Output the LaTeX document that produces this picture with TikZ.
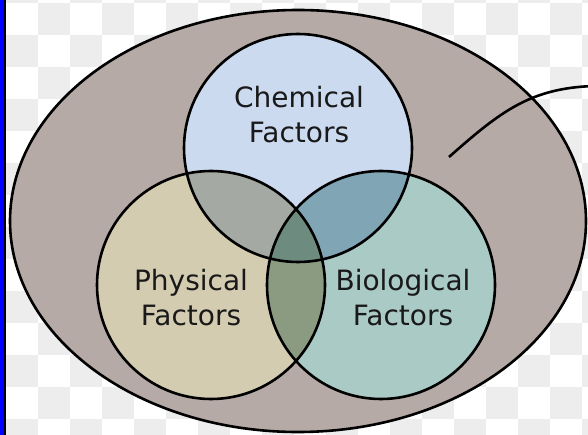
\documentclass[tikz,border=0pt]{standalone}
\usepackage{fontspec}
\setmainfont{DejaVu Sans}

\definecolor{tilegray}{HTML}{EDEDED}
\definecolor{envcol}{HTML}{B5AAA6}
\definecolor{chemcol}{HTML}{CCDAF0}
\definecolor{physcol}{HTML}{D4CCB1}
\definecolor{biocol}{HTML}{AACAC6}
\definecolor{chemphys}{HTML}{A4AAA3}
\definecolor{chembio}{HTML}{80A5B5}
\definecolor{physbio}{HTML}{8B9B81}
\definecolor{allthree}{HTML}{6E8B80}

\tikzstyle{tile} = [fill=tilegray]
\tikzstyle{env} = [draw=black, line width=2.6pt, fill=envcol]
\tikzstyle{set} = [draw=black, line width=2.6pt]
\tikzstyle{lbl} = [align=center, inner sep=0pt, text=black!90, font=\fontsize{28}{35}\selectfont]
\tikzstyle{link} = [draw=black, line width=2.6pt]

\begin{document}
\begin{tikzpicture}[x=1pt,y=-1pt]
\clip (0,0) rectangle (588,435);

% transparency checkerboard
\foreach \i in {0,...,18}{
  \foreach \j in {-1,...,13}{
    \pgfmathtruncatemacro\odd{mod(\i+\j+20,2)}
    \ifnum\odd=1 \fill[tile] ({6+32*\i},{3+32*\j}) rectangle ++(32,32);\fi
  }
}

% left bar
\fill[blue] (0,0) rectangle (3.5,435);
\fill[black] (3.5,0) rectangle (5.5,435);

\coordinate (env) at (298,221);
\coordinate (chem) at (298,148);
\coordinate (phys) at (211,285);
\coordinate (bio) at (381,285);
\def\r{114pt}

% environment
\path[env] (env) ellipse [x radius=288pt, y radius=211pt];

% the three sets
\fill[chemcol] (chem) circle[radius=\r];
\fill[physcol] (phys) circle[radius=\r];
\fill[biocol] (bio) circle[radius=\r];

% overlaps
\begin{scope}
  \clip (chem) circle[radius=\r];
  \fill[chemphys] (phys) circle[radius=\r];
  \fill[chembio] (bio) circle[radius=\r];
\end{scope}
\begin{scope}
  \clip (phys) circle[radius=\r];
  \fill[physbio] (bio) circle[radius=\r];
  \clip (chem) circle[radius=\r];
  \fill[allthree] (bio) circle[radius=\r];
\end{scope}

\foreach \c in {chem,phys,bio}
  \draw[set] (\c) circle[radius=\r];

\node[lbl] (chemtext) at (299,115) {Chemical\\Factors};
\node[lbl] (phystext) at (191,298) {Physical\\Factors};
\node[lbl] (biotext) at (403,298) {Biological\\Factors};

% pointer out of the picture
\coordinate (tip) at (449,157);
\coordinate (off) at (594,86);
\draw[link] (tip) .. controls (500,112) and (530,88) .. (off);

\end{tikzpicture}
\end{document}
